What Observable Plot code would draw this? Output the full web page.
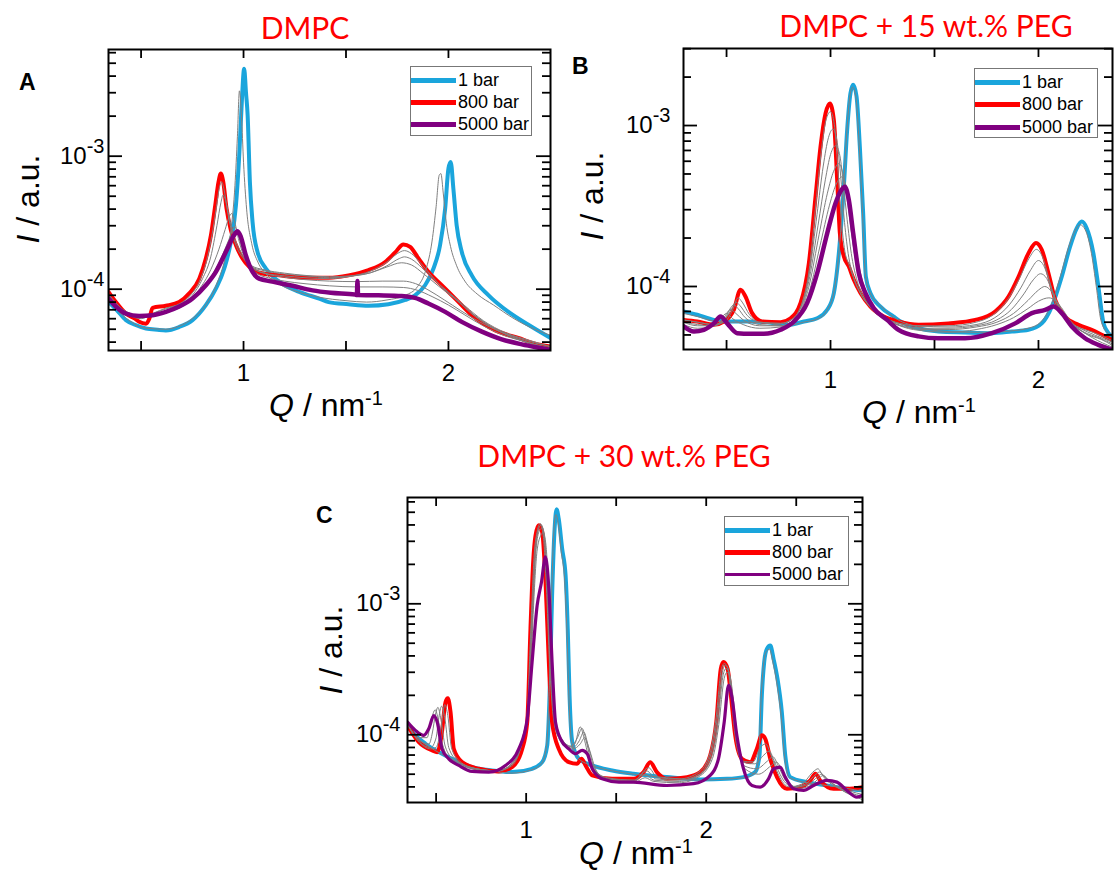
<!DOCTYPE html>
<html>
<head>
<meta charset="utf-8">
<script src="https://cdn.jsdelivr.net/npm/d3@7"></script>
<script src="https://cdn.jsdelivr.net/npm/@observablehq/plot@0.6"></script>
<style>
html, body { margin: 0; padding: 0; background: #fff; overflow: hidden; }
#page { position: relative; width: 1114px; height: 870px; overflow: hidden; font-family: "Liberation Sans", Arial, sans-serif; color: #000; }
.t { position: absolute; white-space: nowrap; line-height: 1; }
.ttl { color: #ff0000; font-family: Lato, "Open Sans", sans-serif; font-size: 30px; transform: translateX(-50%); }
.let { font-weight: bold; font-size: 23px; }
.axt { font-size: 32px; }
.axx { transform: translateX(-50%); }
.axy { transform: translate(-50%, -50%) rotate(-90deg); }
.sup { font-size: 20px; vertical-align: 11px; }
.lg { position: absolute; border: 1.5px solid #777; background: #fff; box-sizing: border-box; }
.lgl { position: absolute; left: 0; width: 45px; }
.lgt { position: absolute; left: 47px; font-size: 18px; line-height: 1; transform: translateY(-50%); white-space: nowrap; }
</style>
</head>
<body>
<div id="page"></div>
<script>
// ---------------- DATA (Q in nm^-1, intensity in units of 1e-4 a.u.) ----------------
const panelTitles = ["DMPC", "DMPC + 15 wt.% PEG", "DMPC + 30 wt.% PEG"];
const panelLetters = ["A", "B", "C"];
const legendLabels = ["1 bar", "800 bar", "5000 bar"];
const xTickValues = [0.5, 1, 1.5, 2, 2.5];
const xTickLabels = [1, 2];
const yTickLabels = [1e-4, 1e-3];

// Panel A: DMPC
const aBlue = [[0.341,0.8],[0.38,0.7],[0.426,0.585],[0.47,0.54],[0.524,0.506],[0.58,0.495],[0.621,0.49],[0.686,0.52],[0.751,0.585],[0.816,0.758],[0.865,1.01],[0.906,1.43],[0.938,2.27],[0.963,4.28],[0.979,10.2],[0.99,22.8],[1.003,45.5],[1.012,30],[1.02,20.3],[1.031,6.4],[1.044,3.2],[1.068,1.91],[1.109,1.43],[1.174,1.14],[1.272,0.955],[1.369,0.85],[1.415,0.8],[1.512,0.77],[1.61,0.75],[1.707,0.77],[1.789,0.83],[1.837,0.9],[1.886,1.07],[1.927,1.43],[1.959,2.14],[1.984,4.04],[2.0,8.1],[2.011,9.05],[2.024,5.7],[2.04,3.03],[2.065,1.91],[2.114,1.27],[2.196,0.9],[2.293,0.675],[2.39,0.54],[2.498,0.43]];
const aRed = [[0.341,0.955],[0.377,0.8],[0.426,0.656],[0.47,0.6],[0.491,0.568],[0.524,0.55],[0.54,0.6],[0.556,0.724],[0.621,0.75],[0.686,0.8],[0.735,0.93],[0.784,1.2],[0.816,1.7],[0.841,2.55],[0.862,4.28],[0.878,6.4],[0.889,7.4],[0.901,6.4],[0.917,4.04],[0.938,2.78],[0.963,2.14],[0.995,1.7],[1.028,1.47],[1.076,1.33],[1.174,1.27],[1.304,1.22],[1.415,1.22],[1.512,1.27],[1.61,1.39],[1.691,1.6],[1.74,1.89],[1.78,2.17],[1.813,2.08],[1.854,1.7],[1.902,1.35],[1.967,1.07],[2.033,0.85],[2.114,0.637],[2.228,0.49],[2.341,0.43],[2.423,0.39],[2.498,0.37]];
const aPurple = [[0.341,0.85],[0.377,0.74],[0.426,0.656],[0.491,0.63],[0.556,0.638],[0.621,0.675],[0.686,0.74],[0.751,0.85],[0.816,1.07],[0.865,1.35],[0.914,1.91],[0.954,2.55],[0.971,2.73],[0.987,2.47],[1.011,1.8],[1.044,1.35],[1.076,1.2],[1.141,1.14],[1.239,1.06],[1.337,0.98],[1.426,0.94],[1.545,0.91],[1.553,0.905],[1.556,1.15],[1.559,0.905],[1.659,0.9],[1.772,0.89],[1.837,0.86],[1.902,0.78],[1.984,0.675],[2.065,0.568],[2.163,0.48],[2.26,0.42],[2.358,0.385],[2.455,0.36],[2.498,0.35]];
const aGrey1 = [[0.345,0.8],[0.43,0.6],[0.52,0.51],[0.62,0.5],[0.69,0.53],[0.75,0.6],[0.82,0.78],[0.87,1.1],[0.91,1.7],[0.94,2.9],[0.958,6],[0.97,14],[0.98,31],[0.99,20],[1.0,9],[1.015,4],[1.04,2.2],[1.07,1.6],[1.11,1.3],[1.17,1.1],[1.27,0.95],[1.37,0.87],[1.5,0.82],[1.6,0.8],[1.7,0.83],[1.79,0.9],[1.85,1.05],[1.89,1.4],[1.92,2.3],[1.94,4.2],[1.955,7.2],[1.963,7.4],[1.975,5.2],[1.99,3.1],[2.01,2.1],[2.04,1.5],[2.08,1.15],[2.14,0.92],[2.22,0.76],[2.32,0.6],[2.42,0.5],[2.498,0.45]];
const aGrey2 = [[0.341,0.92],[0.38,0.78],[0.43,0.66],[0.5,0.6],[0.56,0.66],[0.62,0.72],[0.69,0.78],[0.74,0.9],[0.785,1.15],[0.82,1.65],[0.845,2.5],[0.866,4.0],[0.882,5.8],[0.893,6.4],[0.905,5.6],[0.92,4.0],[0.94,2.8],[0.965,2.1],[1.0,1.7],[1.04,1.45],[1.1,1.32],[1.2,1.26],[1.3,1.22],[1.42,1.2],[1.52,1.25],[1.62,1.37],[1.7,1.6],[1.75,1.85],[1.785,1.95],[1.82,1.85],[1.86,1.6],[1.91,1.3],[1.97,1.03],[2.04,0.83],[2.12,0.64],[2.23,0.5],[2.34,0.43],[2.498,0.37]];
const aGrey3 = [[0.341,0.9],[0.4,0.72],[0.5,0.62],[0.56,0.66],[0.62,0.71],[0.69,0.77],[0.75,0.9],[0.8,1.2],[0.84,1.75],[0.87,3.0],[0.89,4.5],[0.9,5.1],[0.912,4.7],[0.93,3.5],[0.95,2.6],[0.98,2.0],[1.01,1.65],[1.05,1.45],[1.1,1.38],[1.2,1.3],[1.3,1.26],[1.42,1.22],[1.52,1.25],[1.62,1.33],[1.7,1.5],[1.76,1.7],[1.785,1.75],[1.82,1.68],[1.87,1.45],[1.93,1.18],[2.0,0.95],[2.08,0.75],[2.17,0.58],[2.28,0.47],[2.4,0.41],[2.498,0.37]];
const aGrey4 = [[0.341,0.88],[0.4,0.72],[0.5,0.63],[0.6,0.67],[0.7,0.76],[0.78,0.98],[0.84,1.4],[0.88,2.0],[0.91,2.8],[0.93,3.5],[0.942,3.7],[0.955,3.3],[0.975,2.4],[1.0,1.8],[1.04,1.5],[1.1,1.4],[1.2,1.32],[1.3,1.27],[1.42,1.24],[1.52,1.26],[1.62,1.33],[1.7,1.47],[1.77,1.58],[1.82,1.52],[1.88,1.3],[1.95,1.06],[2.03,0.85],[2.12,0.65],[2.23,0.5],[2.34,0.42],[2.498,0.36]];
const aGrey5 = [[0.341,0.86],[0.4,0.72],[0.5,0.63],[0.6,0.67],[0.7,0.75],[0.78,0.93],[0.85,1.3],[0.9,1.85],[0.935,2.5],[0.955,2.95],[0.97,2.7],[0.99,2.1],[1.02,1.6],[1.06,1.4],[1.1,1.32],[1.2,1.23],[1.3,1.18],[1.42,1.15],[1.55,1.14],[1.68,1.15],[1.78,1.15],[1.84,1.1],[1.9,0.99],[1.98,0.83],[2.06,0.69],[2.15,0.57],[2.25,0.48],[2.36,0.41],[2.498,0.36]];
const aGrey6 = [[0.341,0.85],[0.4,0.71],[0.5,0.63],[0.6,0.66],[0.7,0.74],[0.78,0.92],[0.85,1.28],[0.9,1.8],[0.94,2.45],[0.965,2.8],[0.98,2.5],[1.0,1.95],[1.03,1.5],[1.07,1.3],[1.12,1.22],[1.2,1.15],[1.3,1.1],[1.42,1.06],[1.55,1.04],[1.68,1.04],[1.78,1.03],[1.85,0.98],[1.92,0.88],[2.0,0.76],[2.08,0.64],[2.17,0.53],[2.27,0.45],[2.38,0.4],[2.498,0.355]];

// Panel B: DMPC + 15 wt.% PEG
const bBlue = [[0.293,0.7],[0.359,0.667],[0.439,0.62],[0.519,0.606],[0.6,0.606],[0.696,0.6],[0.792,0.578],[0.872,0.606],[0.936,0.635],[0.984,0.716],[1.016,0.91],[1.04,1.61],[1.064,4.17],[1.08,9.4],[1.096,15.9],[1.109,17.9],[1.125,15.2],[1.141,7.4],[1.157,2.85],[1.17,1.15],[1.192,0.91],[1.24,0.75],[1.304,0.65],[1.337,0.606],[1.423,0.55],[1.519,0.525],[1.647,0.518],[1.776,0.513],[1.872,0.525],[1.952,0.538],[2.016,0.59],[2.064,0.75],[2.112,1.15],[2.152,1.77],[2.184,2.3],[2.208,2.53],[2.232,2.3],[2.264,1.61],[2.288,1.0],[2.313,0.59],[2.337,0.513],[2.356,0.49]];
const bRed = [[0.293,0.62],[0.359,0.606],[0.439,0.578],[0.487,0.606],[0.535,0.716],[0.567,0.953],[0.591,0.867],[0.623,0.683],[0.671,0.606],[0.76,0.6],[0.808,0.635],[0.856,0.79],[0.896,1.4],[0.928,3.62],[0.952,7.4],[0.976,11.9],[0.997,13.7],[1.016,10.8],[1.032,4.6],[1.045,2.14],[1.064,1.54],[1.088,1.33],[1.112,1.1],[1.144,0.91],[1.192,0.75],[1.256,0.65],[1.327,0.606],[1.423,0.578],[1.567,0.59],[1.696,0.62],[1.792,0.7],[1.856,0.867],[1.904,1.15],[1.952,1.61],[1.988,1.86],[2.016,1.69],[2.048,1.21],[2.08,0.83],[2.128,0.65],[2.192,0.578],[2.256,0.538],[2.32,0.49],[2.356,0.466]];
const bPurple = [[0.293,0.565],[0.343,0.525],[0.391,0.538],[0.439,0.59],[0.471,0.65],[0.503,0.59],[0.551,0.513],[0.615,0.508],[0.679,0.508],[0.76,0.538],[0.824,0.606],[0.888,0.79],[0.936,1.21],[0.984,2.14],[1.024,3.29],[1.048,3.9],[1.069,4.17],[1.088,3.45],[1.109,2.14],[1.136,1.21],[1.168,0.91],[1.208,0.733],[1.272,0.62],[1.327,0.538],[1.423,0.49],[1.519,0.477],[1.647,0.477],[1.776,0.513],[1.888,0.59],[1.968,0.683],[2.032,0.716],[2.072,0.75],[2.112,0.683],[2.16,0.565],[2.224,0.477],[2.288,0.434],[2.356,0.404]];
const bGrey1 = [[0.293,0.68],[0.36,0.65],[0.44,0.61],[0.52,0.6],[0.6,0.6],[0.7,0.59],[0.79,0.57],[0.87,0.6],[0.94,0.63],[0.985,0.72],[1.016,0.92],[1.04,1.6],[1.062,4.0],[1.078,9.0],[1.094,15.5],[1.106,17.3],[1.122,15.0],[1.138,7.5],[1.153,3.0],[1.167,1.2],[1.19,0.92],[1.24,0.76],[1.3,0.65],[1.42,0.56],[1.52,0.53],[1.65,0.52],[1.78,0.52],[1.87,0.53],[1.95,0.55],[2.01,0.6],[2.06,0.76],[2.105,1.15],[2.145,1.75],[2.178,2.25],[2.2,2.42],[2.225,2.25],[2.255,1.6],[2.278,1.0],[2.3,0.62],[2.33,0.52],[2.356,0.5]];
const bGrey2 = [[0.293,0.62],[0.36,0.6],[0.44,0.58],[0.49,0.6],[0.53,0.72],[0.555,0.85],[0.575,0.8],[0.61,0.67],[0.66,0.6],[0.76,0.59],[0.81,0.62],[0.86,0.77],[0.9,1.35],[0.93,3.3],[0.955,6.8],[0.978,10.8],[1.0,12.2],[1.018,10.2],[1.035,5.5],[1.05,2.8],[1.066,1.75],[1.09,1.35],[1.115,1.1],[1.145,0.9],[1.19,0.75],[1.26,0.64],[1.33,0.59],[1.42,0.57],[1.57,0.57],[1.7,0.6],[1.79,0.68],[1.855,0.84],[1.905,1.1],[1.955,1.5],[1.99,1.7],[2.017,1.55],[2.05,1.12],[2.08,0.8],[2.13,0.63],[2.19,0.56],[2.26,0.52],[2.356,0.46]];
const bGrey3 = [[0.293,0.62],[0.36,0.6],[0.44,0.58],[0.49,0.62],[0.525,0.73],[0.545,0.8],[0.565,0.76],[0.6,0.66],[0.66,0.6],[0.76,0.59],[0.81,0.62],[0.86,0.76],[0.9,1.25],[0.935,2.8],[0.965,5.6],[0.99,8.4],[1.012,9.5],[1.03,8.2],[1.048,5.0],[1.065,2.7],[1.085,1.6],[1.11,1.15],[1.145,0.9],[1.19,0.75],[1.26,0.64],[1.33,0.59],[1.42,0.57],[1.57,0.56],[1.7,0.58],[1.79,0.64],[1.86,0.77],[1.915,0.98],[1.96,1.25],[2.0,1.45],[2.025,1.35],[2.055,1.05],[2.09,0.78],[2.14,0.62],[2.2,0.55],[2.27,0.5],[2.356,0.45]];
const bGrey4 = [[0.293,0.6],[0.36,0.58],[0.44,0.57],[0.49,0.62],[0.515,0.72],[0.535,0.77],[0.555,0.73],[0.59,0.64],[0.66,0.58],[0.76,0.57],[0.81,0.6],[0.86,0.73],[0.9,1.15],[0.94,2.4],[0.975,4.6],[1.0,6.6],[1.025,7.5],[1.045,6.5],[1.062,4.3],[1.08,2.6],[1.1,1.6],[1.125,1.12],[1.16,0.86],[1.2,0.72],[1.27,0.62],[1.35,0.57],[1.45,0.55],[1.57,0.55],[1.7,0.57],[1.8,0.62],[1.87,0.72],[1.93,0.9],[1.975,1.1],[2.01,1.2],[2.04,1.12],[2.07,0.9],[2.11,0.7],[2.16,0.58],[2.22,0.52],[2.29,0.48],[2.356,0.44]];
const bGrey5 = [[0.293,0.6],[0.36,0.57],[0.44,0.57],[0.48,0.62],[0.52,0.72],[0.545,0.68],[0.58,0.62],[0.66,0.57],[0.76,0.57],[0.81,0.6],[0.86,0.71],[0.9,1.05],[0.945,2.1],[0.985,3.8],[1.015,5.2],[1.04,5.8],[1.06,5.0],[1.078,3.6],[1.1,2.2],[1.12,1.45],[1.145,1.05],[1.18,0.82],[1.22,0.7],[1.28,0.61],[1.36,0.56],[1.45,0.54],[1.57,0.54],[1.7,0.56],[1.8,0.6],[1.88,0.68],[1.95,0.82],[2.0,0.95],[2.03,1.0],[2.06,0.94],[2.09,0.8],[2.13,0.65],[2.18,0.56],[2.24,0.5],[2.3,0.47],[2.356,0.43]];
const bGrey6 = [[0.293,0.58],[0.36,0.55],[0.42,0.56],[0.47,0.63],[0.5,0.68],[0.53,0.63],[0.58,0.58],[0.66,0.55],[0.76,0.56],[0.81,0.59],[0.86,0.69],[0.9,0.95],[0.95,1.8],[0.995,3.2],[1.03,4.4],[1.055,4.8],[1.075,4.2],[1.095,3.0],[1.12,1.8],[1.145,1.2],[1.175,0.9],[1.21,0.74],[1.27,0.63],[1.35,0.56],[1.45,0.53],[1.57,0.52],[1.7,0.54],[1.8,0.58],[1.88,0.64],[1.95,0.73],[2.0,0.81],[2.05,0.85],[2.08,0.82],[2.11,0.74],[2.15,0.62],[2.2,0.54],[2.26,0.48],[2.356,0.42]];

// Panel C: DMPC + 30 wt.% PEG
const cBlue = [[0.341,1.18],[0.385,0.99],[0.441,0.854],[0.515,0.737],[0.607,0.637],[0.7,0.566],[0.811,0.534],[0.922,0.519],[1.033,0.55],[1.089,0.618],[1.117,0.829],[1.13,1.995],[1.144,11.5],[1.157,35.3],[1.169,52.8],[1.181,44.5],[1.2,26.3],[1.219,16.5],[1.231,6.45],[1.241,2.0],[1.256,0.88],[1.293,0.655],[1.367,0.583],[1.478,0.534],[1.596,0.504],[1.781,0.475],[1.967,0.456],[2.115,0.461],[2.207,0.475],[2.272,0.519],[2.296,0.695],[2.309,2.0],[2.322,3.59],[2.337,4.53],[2.356,4.8],[2.374,3.8],[2.396,2.67],[2.42,1.49],[2.439,0.695],[2.467,0.475],[2.559,0.435],[2.67,0.41],[2.781,0.387],[2.868,0.376]];
const cRed = [[0.341,1.18],[0.404,0.879],[0.478,0.76],[0.506,0.737],[0.53,0.99],[0.552,1.77],[0.565,1.9],[0.58,1.49],[0.598,0.78],[0.644,0.618],[0.737,0.55],[0.848,0.525],[0.922,0.567],[0.978,0.78],[1.006,1.25],[1.024,6.45],[1.039,20.8],[1.052,33.2],[1.07,39.7],[1.089,35.3],[1.107,15.5],[1.126,3.59],[1.144,1.25],[1.181,0.78],[1.237,0.618],[1.283,0.6],[1.307,0.655],[1.33,0.583],[1.367,0.49],[1.478,0.461],[1.596,0.461],[1.652,0.519],[1.689,0.618],[1.726,0.519],[1.781,0.461],[1.893,0.475],[1.967,0.519],[2.022,0.695],[2.056,1.25],[2.081,3.19],[2.096,3.59],[2.119,3.19],[2.137,2.0],[2.161,0.99],[2.198,0.655],[2.244,0.618],[2.281,0.78],[2.309,0.99],[2.328,0.932],[2.356,0.655],[2.393,0.475],[2.448,0.387],[2.522,0.398],[2.578,0.448],[2.606,0.504],[2.633,0.448],[2.707,0.387],[2.781,0.387],[2.868,0.398]];
const cPurple = [[0.341,1.25],[0.385,1.08],[0.431,0.99],[0.459,1.11],[0.487,1.4],[0.506,1.25],[0.533,0.78],[0.57,0.655],[0.626,0.583],[0.7,0.525],[0.793,0.519],[0.885,0.583],[0.959,0.78],[1.006,1.32],[1.033,3.59],[1.061,9.7],[1.085,14.6],[1.107,22.8],[1.126,13.0],[1.144,3.59],[1.163,1.25],[1.191,0.932],[1.237,0.78],[1.274,0.716],[1.311,0.76],[1.339,0.716],[1.367,0.55],[1.422,0.461],[1.515,0.435],[1.596,0.435],[1.781,0.41],[1.93,0.423],[2.022,0.49],[2.068,0.655],[2.1,1.25],[2.124,2.38],[2.141,2.0],[2.17,0.99],[2.207,0.55],[2.254,0.41],[2.3,0.398],[2.346,0.461],[2.374,0.55],[2.411,0.567],[2.439,0.475],[2.485,0.387],[2.541,0.376],[2.596,0.41],[2.67,0.448],[2.726,0.435],[2.781,0.376],[2.837,0.334],[2.868,0.345]];
const cGrey1 = [[0.341,1.2],[0.385,0.98],[0.44,0.85],[0.515,0.73],[0.607,0.63],[0.7,0.56],[0.81,0.53],[0.92,0.51],[1.03,0.54],[1.085,0.6],[1.112,0.8],[1.126,1.8],[1.14,10],[1.152,32],[1.165,48],[1.177,42],[1.195,25],[1.214,15],[1.227,6],[1.237,2],[1.252,0.9],[1.29,0.66],[1.37,0.58],[1.48,0.53],[1.6,0.5],[1.78,0.47],[1.97,0.45],[2.115,0.46],[2.21,0.47],[2.27,0.51],[2.292,0.68],[2.305,1.9],[2.318,3.4],[2.333,4.3],[2.352,4.5],[2.37,3.6],[2.392,2.5],[2.416,1.4],[2.435,0.68],[2.463,0.47],[2.56,0.43],[2.67,0.41],[2.78,0.39],[2.868,0.37]];
const cGrey2 = [[0.341,1.2],[0.4,0.9],[0.47,0.78],[0.5,0.8],[0.53,1.2],[0.548,1.7],[0.565,1.4],[0.585,0.8],[0.63,0.63],[0.72,0.55],[0.84,0.53],[0.92,0.58],[0.975,0.85],[1.005,1.4],[1.025,6],[1.045,24],[1.062,36],[1.078,41],[1.095,33],[1.112,14],[1.13,3.5],[1.15,1.4],[1.18,0.95],[1.23,0.8],[1.27,0.85],[1.3,1.15],[1.325,0.9],[1.36,0.58],[1.45,0.47],[1.6,0.45],[1.68,0.56],[1.73,0.47],[1.85,0.46],[1.96,0.52],[2.02,0.72],[2.055,1.35],[2.085,3.2],[2.1,3.5],[2.118,3.3],[2.137,2.1],[2.16,1.0],[2.2,0.63],[2.26,0.62],[2.3,0.8],[2.33,0.85],[2.36,0.7],[2.4,0.5],[2.46,0.4],[2.53,0.42],[2.6,0.53],[2.62,0.55],[2.65,0.48],[2.72,0.4],[2.8,0.37],[2.868,0.35]];
const cGrey3 = [[0.341,1.2],[0.4,0.9],[0.47,0.8],[0.5,0.95],[0.515,1.35],[0.53,1.65],[0.548,1.35],[0.57,0.8],[0.62,0.63],[0.72,0.55],[0.84,0.53],[0.92,0.6],[0.98,0.9],[1.01,1.6],[1.03,7],[1.05,25],[1.068,37],[1.085,40],[1.1,32],[1.117,13],[1.135,3.2],[1.155,1.4],[1.19,0.95],[1.25,0.82],[1.285,0.95],[1.31,1.12],[1.335,0.88],[1.37,0.56],[1.45,0.46],[1.6,0.45],[1.67,0.53],[1.72,0.46],[1.85,0.45],[1.96,0.5],[2.025,0.7],[2.06,1.3],[2.09,3.0],[2.105,3.4],[2.122,3.2],[2.14,2.1],[2.165,1.0],[2.2,0.62],[2.27,0.6],[2.32,0.7],[2.35,0.75],[2.38,0.62],[2.42,0.47],[2.48,0.4],[2.55,0.42],[2.61,0.5],[2.63,0.52],[2.66,0.47],[2.73,0.4],[2.8,0.36],[2.868,0.34]];
const cGrey4 = [[0.341,1.2],[0.4,0.92],[0.46,0.85],[0.48,1.05],[0.495,1.4],[0.51,1.62],[0.527,1.3],[0.55,0.82],[0.6,0.64],[0.7,0.56],[0.84,0.53],[0.92,0.6],[0.98,0.92],[1.015,1.8],[1.035,8],[1.055,26],[1.073,36],[1.09,38],[1.105,30],[1.122,12],[1.14,3],[1.16,1.35],[1.2,0.92],[1.26,0.8],[1.295,0.9],[1.32,1.05],[1.345,0.82],[1.38,0.55],[1.45,0.46],[1.6,0.44],[1.66,0.5],[1.71,0.45],[1.85,0.44],[1.96,0.49],[2.03,0.68],[2.065,1.25],[2.095,2.9],[2.11,3.2],[2.127,3.0],[2.145,2.0],[2.17,0.95],[2.21,0.58],[2.28,0.55],[2.34,0.63],[2.37,0.68],[2.4,0.58],[2.44,0.45],[2.5,0.4],[2.57,0.42],[2.62,0.48],[2.64,0.5],[2.67,0.46],[2.74,0.39],[2.8,0.35],[2.868,0.33]];
const cGrey5 = [[0.341,1.22],[0.4,0.95],[0.45,0.95],[0.47,1.25],[0.495,1.55],[0.512,1.3],[0.535,0.85],[0.58,0.65],[0.7,0.55],[0.84,0.53],[0.92,0.6],[0.98,0.95],[1.02,2],[1.04,9],[1.06,25],[1.08,33],[1.095,35],[1.11,28],[1.127,11],[1.145,2.8],[1.165,1.3],[1.2,0.9],[1.26,0.78],[1.3,0.85],[1.325,0.95],[1.35,0.78],[1.39,0.53],[1.45,0.45],[1.6,0.43],[1.66,0.47],[1.71,0.44],[1.85,0.43],[1.96,0.48],[2.035,0.66],[2.07,1.2],[2.1,2.7],[2.115,3.0],[2.132,2.8],[2.15,1.9],[2.175,0.9],[2.215,0.55],[2.29,0.5],[2.36,0.58],[2.39,0.62],[2.42,0.54],[2.46,0.43],[2.52,0.39],[2.59,0.42],[2.63,0.47],[2.65,0.49],[2.68,0.45],[2.75,0.38],[2.82,0.34],[2.868,0.32]];

// ---------------- RENDER ----------------
const COLORS = {blue: "#1aa5dc", red: "#ff0000", purple: "#800080", grey: "#808080"};
const page = document.getElementById("page");
const toRows = arr => arr.map(([q, v]) => ({q, I: v * 1e-4}));
const supMap = {"⁻": "-", "⁰": "0", "¹": "1", "²": "2", "³": "3", "⁴": "4", "⁵": "5", "⁶": "6", "⁷": "7", "⁸": "8", "⁹": "9"};
const toSup = s => String(s).replace(/[-0-9]/g, c => ({"-": "⁻", "0": "⁰", "1": "¹", "2": "²", "3": "³", "4": "⁴", "5": "⁵", "6": "⁶", "7": "⁷", "8": "⁸", "9": "⁹"})[c]);

function drawPanel(cfg) {
  const fw = cfg.right - cfg.left, fh = cfg.bottom - cfg.top;
  const mL = 80, mT = 4, mR = cfg.mR, mB = 50;
  const [y0, y1] = cfg.yDomain;
  const yMajor = [], yMinor = [];
  for (let e = Math.floor(Math.log10(y0)); e <= Math.ceil(Math.log10(y1)); e++) {
    for (let k = 1; k <= 9; k++) {
      const t = +(k * Math.pow(10, e)).toPrecision(6);
      if (t >= y0 && t <= y1) (k === 1 ? yMajor : yMinor).push(t);
    }
  }
  const xt = xTickValues.filter(d => d >= cfg.xDomain[0] && d <= cfg.xDomain[1]);
  const lineOpts = (color, w) => ({x: "q", y: "I", stroke: color, strokeWidth: w, curve: "monotone-x", clip: true, strokeLinejoin: "round", strokeLinecap: "round"});
  const tickStyle = {stroke: "black", strokeWidth: 1.8};
  const svg = Plot.plot({
    width: mL + fw + mR, height: mT + fh + mB,
    marginLeft: mL, marginTop: mT, marginRight: mR, marginBottom: mB,
    x: {type: "linear", domain: cfg.xDomain},
    y: {type: "log", domain: cfg.yDomain},
    style: {background: "transparent", overflow: "visible", fontFamily: "'Liberation Sans', Arial, sans-serif", fontSize: "24px", color: "black"},
    marks: [
      Plot.line(toRows(cfg.blue), lineOpts(COLORS.blue, cfg.lw)),
      Plot.line(toRows(cfg.red), lineOpts(COLORS.red, cfg.lw)),
      ...cfg.greys.map(g => Plot.line(toRows(g), lineOpts(COLORS.grey, 1))),
      Plot.line(toRows(cfg.purple), lineOpts(COLORS.purple, cfg.pw)),
      Plot.ruleX(xt, {...tickStyle, insetTop: fh - 9}),
      Plot.ruleX(xt, {...tickStyle, insetBottom: fh - 9}),
      Plot.ruleY(yMajor, {...tickStyle, insetRight: fw - 14}),
      Plot.ruleY(yMajor, {...tickStyle, insetLeft: fw - 14}),
      Plot.ruleY(yMinor, {...tickStyle, insetRight: fw - 8}),
      Plot.ruleY(yMinor, {...tickStyle, insetLeft: fw - 8}),
      Plot.frame({stroke: "black", strokeWidth: 2}),
      Plot.axisX({ticks: xTickLabels, tickSize: 0, tickPadding: cfg.xPad, fontSize: 24, label: null, tickFormat: d => String(d)}),
      Plot.axisY({ticks: yTickLabels, tickSize: 0, tickPadding: cfg.yPad, fontSize: 24, label: null,
        tickFormat: d => "10" + toSup(Math.round(Math.log10(d)))})
    ]
  });
  svg.style.position = "absolute";
  svg.style.left = (cfg.left - mL) + "px";
  svg.style.top = (cfg.top - mT) + "px";
  svg.style.maxWidth = "none";
  svg.querySelectorAll("text").forEach(t => {
    t.setAttribute("font-size", "24");
    t.style.fontSize = "24px";
    const s = t.textContent;
    const m = s.match(/^10([⁻⁰¹²³⁴⁵⁶⁷⁸⁹]+)$/);
    if (!m) return;
    const exp = m[1].split("").map(c => supMap[c]).join("");
    while (t.firstChild) t.removeChild(t.firstChild);
    t.appendChild(document.createTextNode("10"));
    const ts = document.createElementNS("http://www.w3.org/2000/svg", "tspan");
    ts.setAttribute("dy", "-11");
    ts.setAttribute("font-size", "20");
    ts.style.fontSize = "20px";
    ts.textContent = exp;
    t.appendChild(ts);
  });
  page.appendChild(svg);
}

function addText(html, cls, x, y) {
  const d = document.createElement("div");
  d.className = "t " + cls;
  d.style.left = x + "px";
  d.style.top = y + "px";
  d.innerHTML = html;
  page.appendChild(d);
}

function addLegend(x, y, w, h, rowYs, purpleW) {
  const box = document.createElement("div");
  box.className = "lg";
  Object.assign(box.style, {left: x + "px", top: y + "px", width: w + "px", height: h + "px"});
  const cols = [COLORS.blue, COLORS.red, COLORS.purple];
  const widths = [5, 5, purpleW];
  legendLabels.forEach((lab, i) => {
    const ln = document.createElement("div");
    ln.className = "lgl";
    Object.assign(ln.style, {top: (rowYs[i] - widths[i] / 2) + "px", height: widths[i] + "px", background: cols[i]});
    box.appendChild(ln);
    const tx = document.createElement("div");
    tx.className = "lgt";
    tx.style.top = rowYs[i] + "px";
    tx.textContent = lab;
    box.appendChild(tx);
  });
  page.appendChild(box);
}

const xTitle = '<i>Q</i> / nm<span class="sup">-1</span>';
const yTitle = '<i>I</i> / a.u.';

// Panel A
drawPanel({left: 108, right: 550, top: 49, bottom: 350, mR: 10,
  xDomain: [0.341, 2.498], yDomain: [3.46e-5, 6.34e-3],
  blue: aBlue, red: aRed, purple: aPurple, greys: [aGrey1, aGrey2, aGrey3, aGrey4, aGrey5, aGrey6],
  lw: 4, pw: 4.5, xPad: 13, yPad: 4});
// Panel B
drawPanel({left: 683, right: 1112, top: 48, bottom: 349, mR: 2,
  xDomain: [0.293, 2.356], yDomain: [4.06e-5, 3.01e-3],
  blue: bBlue, red: bRed, purple: bPurple, greys: [bGrey1, bGrey2, bGrey3, bGrey4, bGrey5, bGrey6],
  lw: 4, pw: 4.5, xPad: 21, yPad: 13});
// Panel C
drawPanel({left: 407, right: 862, top: 497, bottom: 802, mR: 10,
  xDomain: [0.341, 2.868], yDomain: [3.04e-5, 6.48e-3],
  blue: cBlue, red: cRed, purple: cPurple, greys: [cGrey1, cGrey2, cGrey3, cGrey4, cGrey5],
  lw: 4, pw: 3.2, xPad: 18, yPad: 7});

// titles, letters, axis titles
addText(panelTitles[0], "ttl", 305, 12);
addText(panelTitles[1], "ttl", 926, 10);
addText(panelTitles[2], "ttl", 624, 440);
addText(panelLetters[0], "let", 19, 71);
addText(panelLetters[1], "let", 572, 55);
addText(panelLetters[2], "let", 316, 504);
addText(xTitle, "axt axx", 326, 388);
addText(xTitle, "axt axx", 919, 395);
addText(xTitle, "axt axx", 636, 836);
addText(yTitle, "axt axy", 28, 199);
addText(yTitle, "axt axy", 592, 196);
addText(yTitle, "axt axy", 331, 650);

// legends
addLegend(410, 66, 122, 70, [13, 35, 57], 5);
addLegend(974, 68, 124, 70, [13, 35, 58], 5);
addLegend(724, 516, 125, 70, [13, 35, 57], 3);
</script>
</body>
</html>
